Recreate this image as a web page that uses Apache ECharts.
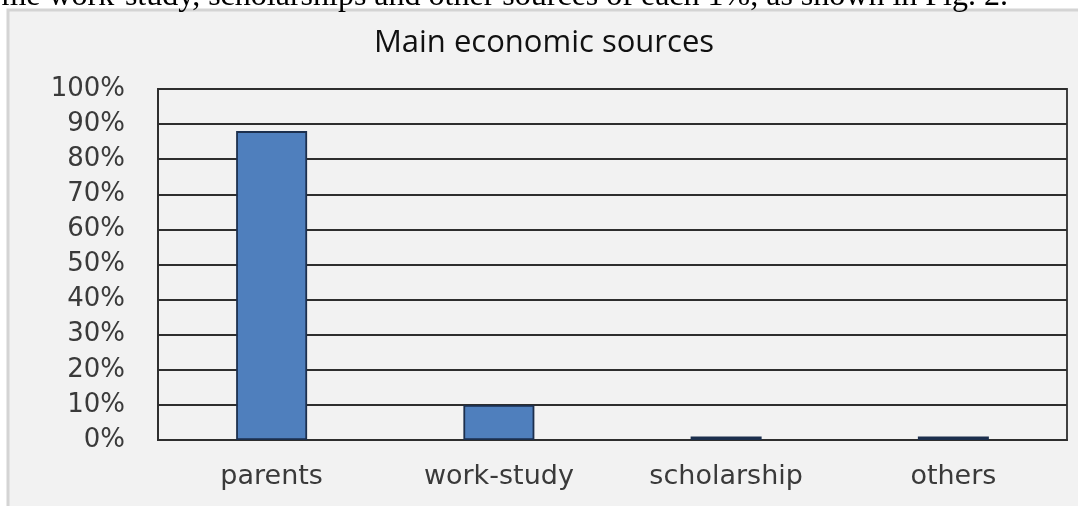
<!DOCTYPE html>
<html>
<head>
<meta charset="utf-8">
<script src="https://cdn.jsdelivr.net/npm/echarts@6/dist/echarts.min.js"></script>
<style>
  html, body { margin: 0; padding: 0; background: #fff; }
  #main { width: 1078px; height: 506px; }
</style>
</head>
<body>
<div id="main"></div>
<script>
var categories = ['parents', 'work-study', 'scholarship', 'others'];
var shares = [88, 10, 1, 1];
var yTicks = [0, 10, 20, 30, 40, 50, 60, 70, 80, 90, 100];

var myChart = echarts.init(document.getElementById('main'));
var option = {
    backgroundColor: '#fff',
    animation: false,
    title: {
        text: 'Main economic sources',
        left: 539,
        top: 23,
        textAlign: 'center',
        textStyle: {
            fontFamily: 'Open Sans',
            fontWeight: 'normal',
            fontSize: 31,
            color: '#111'
        }
    },
    graphic: [{
        type: 'rect',
        z: -10,
        shape: { x: 8, y: 10, width: 1080, height: 510 },
        style: { fill: '#f2f2f2', stroke: '#d4d4d4', lineWidth: 3 }
    }, {
        type: 'text',
        z: -5,
        x: 1008,
        y: 13,
        style: {
            text: 'some work-study, scholarships and other sources of each 1%, as shown in Fig. 2.',
            font: '32px "Liberation Serif"',
            fill: '#000',
            align: 'right',
            verticalAlign: 'bottom'
        }
    }],
    grid: {
        show: true,
        left: 158,
        right: 11,
        top: 89,
        bottom: 66,
        outerBoundsMode: 'none',
        borderColor: '#2e2e2e',
        borderWidth: 1.8,
        backgroundColor: 'transparent'
    },
    xAxis: {
        type: 'category',
        data: categories,
        axisLine: { show: true, lineStyle: { color: '#2e2e2e', width: 1.8 } },
        axisTick: { show: false },
        axisLabel: {
            margin: 23,
            fontFamily: 'DejaVu Sans',
            fontSize: 27,
            color: '#3a3a3a'
        }
    },
    yAxis: {
        type: 'value',
        min: yTicks[0],
        max: yTicks[yTicks.length - 1],
        interval: 10,
        axisLine: { show: true, lineStyle: { color: '#2e2e2e', width: 1.8 } },
        axisTick: { show: false },
        splitLine: { lineStyle: { color: '#2e2e2e', width: 1.8 } },
        axisLabel: {
            margin: 33,
            formatter: '{value}%',
            fontFamily: 'DejaVu Sans',
            fontSize: 26,
            color: '#3a3a3a'
        }
    },
    series: [{
        type: 'bar',
        data: shares,
        barWidth: 71,
        itemStyle: {
            color: '#4f7fbd',
            borderColor: '#1c2f4d',
            borderWidth: 1.8
        }
    }]
};
myChart.setOption(option);
</script>
</body>
</html>
